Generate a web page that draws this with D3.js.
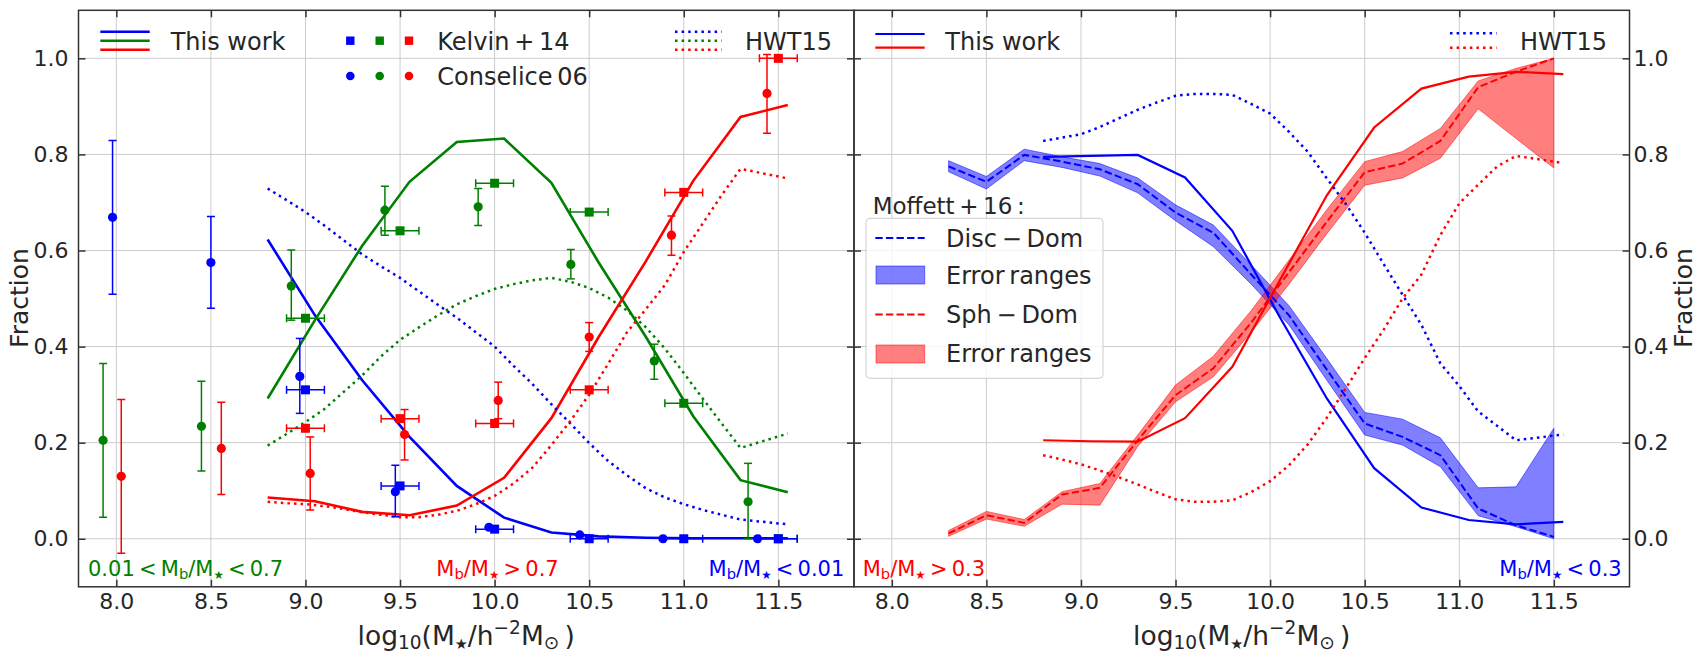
<!DOCTYPE html>
<html><head><meta charset="utf-8">
<script src="https://cdn.jsdelivr.net/npm/d3@7"></script>
<style>
body{margin:0;background:#fff}
svg{display:block}
text{font-family:"DejaVu Sans",sans-serif;fill:#262626}
</style></head>
<body><svg id="c" width="1707" height="665"></svg>
<script>
// ---------------- data ----------------
const xDomain = [7.8, 11.9];
const yDomain = [-0.1, 1.1];
const xTicks = [8.0, 8.5, 9.0, 9.5, 10.0, 10.5, 11.0, 11.5];
const yTicks = [0.0, 0.2, 0.4, 0.6, 0.8, 1.0];

// Left panel: This work
const workX = [8.8, 9.05, 9.3, 9.55, 9.8, 10.05, 10.3, 10.55, 10.8, 11.05, 11.3, 11.55];
const workLow  = [0.623, 0.465, 0.330, 0.212, 0.110, 0.044, 0.013, 0.005, 0.002, 0.001, 0.001, 0.001];
const workMid  = [0.292, 0.455, 0.610, 0.743, 0.826, 0.833, 0.741, 0.575, 0.420, 0.255, 0.122, 0.097];
const workHigh = [0.086, 0.078, 0.056, 0.049, 0.069, 0.127, 0.251, 0.420, 0.578, 0.745, 0.878, 0.903];

// Left panel: HWT15
const hwtX = [8.8, 8.9, 9.0, 9.1, 9.2, 9.3, 9.4, 9.5, 9.6, 9.7, 9.8, 9.9, 10.0, 10.1, 10.2, 10.3, 10.4, 10.5, 10.6, 10.7, 10.8, 10.9, 11.0, 11.1, 11.2, 11.3, 11.55];
const hwtLow  = [0.729, 0.705, 0.680, 0.652, 0.622, 0.592, 0.567, 0.543, 0.515, 0.487, 0.460, 0.430, 0.400, 0.360, 0.322, 0.280, 0.240, 0.199, 0.162, 0.132, 0.105, 0.086, 0.072, 0.060, 0.050, 0.040, 0.030];
const hwtMid  = [0.194, 0.218, 0.243, 0.270, 0.305, 0.340, 0.380, 0.414, 0.440, 0.465, 0.488, 0.505, 0.520, 0.530, 0.538, 0.543, 0.535, 0.522, 0.502, 0.475, 0.440, 0.396, 0.345, 0.292, 0.240, 0.189, 0.219];
const hwtHigh = [0.077, 0.074, 0.072, 0.068, 0.062, 0.055, 0.050, 0.045, 0.045, 0.050, 0.058, 0.072, 0.089, 0.115, 0.148, 0.195, 0.245, 0.300, 0.364, 0.430, 0.478, 0.528, 0.597, 0.656, 0.715, 0.770, 0.750];

// Kelvin+14
const kelvinX = [9.0, 9.5, 10.0, 10.5, 11.0, 11.5];
const kelvinXerr = [0.1, 0.1, 0.1, 0.1, 0.1, 0.1];
const kelvinLow  = [0.310, 0.110, 0.020, 0.000, 0.000, 0.000];
const kelvinMid  = [0.459, 0.641, 0.740, 0.680, 0.282, 0.000];
const kelvinHigh = [0.230, 0.250, 0.240, 0.310, 0.721, 1.000];

// Conselice 06
const consLowX  = [7.98, 8.50, 8.97, 9.475, 9.97, 10.45, 10.89, 11.39];
const consLowY  = [0.669, 0.575, 0.338, 0.098, 0.024, 0.008, 0.000, 0.000];
const consLowUp = [0.829, 0.671, 0.417, 0.153, 0.024, 0.008, 0.000, 0.000];
const consLowDn = [0.509, 0.480, 0.261, 0.046, 0.024, 0.008, 0.000, 0.000];
const consMidX  = [7.93, 8.45, 8.925, 9.42, 9.913, 10.403, 10.844, 11.34];
const consMidY  = [0.205, 0.234, 0.526, 0.684, 0.691, 0.571, 0.370, 0.077];
const consMidUp = [0.365, 0.328, 0.601, 0.734, 0.729, 0.602, 0.405, 0.157];
const consMidDn = [0.045, 0.141, 0.455, 0.632, 0.652, 0.541, 0.332, 0.000];
const consHighX  = [8.026, 8.555, 9.025, 9.524, 10.019, 10.50, 10.935, 11.44];
const consHighY  = [0.130, 0.188, 0.136, 0.217, 0.288, 0.420, 0.632, 0.927];
const consHighUp = [0.290, 0.284, 0.212, 0.269, 0.326, 0.450, 0.672, 1.008];
const consHighDn = [-0.030, 0.092, 0.060, 0.164, 0.250, 0.390, 0.590, 0.844];

// Right panel: This work
const workRX = [8.8, 9.05, 9.3, 9.55, 9.8, 10.05, 10.3, 10.55, 10.8, 11.05, 11.3, 11.55];
const workDisc = [0.795, 0.797, 0.799, 0.752, 0.641, 0.462, 0.292, 0.147, 0.065, 0.039, 0.030, 0.035];
const workSph  = [0.205, 0.203, 0.202, 0.251, 0.358, 0.537, 0.715, 0.856, 0.937, 0.962, 0.972, 0.967];

// Right panel: HWT15
const hwtRX = [8.8, 8.9, 9.0, 9.1, 9.2, 9.3, 9.4, 9.5, 9.6, 9.7, 9.8, 9.9, 10.0, 10.1, 10.2, 10.3, 10.4, 10.5, 10.6, 10.7, 10.8, 10.9, 11.0, 11.1, 11.2, 11.3, 11.55];
const hwtDisc = [0.828, 0.835, 0.842, 0.857, 0.875, 0.893, 0.908, 0.922, 0.926, 0.926, 0.924, 0.905, 0.885, 0.847, 0.805, 0.750, 0.697, 0.637, 0.572, 0.508, 0.445, 0.365, 0.318, 0.265, 0.235, 0.205, 0.217];
const hwtSph  = [0.174, 0.165, 0.155, 0.142, 0.128, 0.113, 0.097, 0.082, 0.077, 0.077, 0.080, 0.097, 0.120, 0.153, 0.197, 0.252, 0.313, 0.376, 0.435, 0.500, 0.550, 0.632, 0.698, 0.737, 0.775, 0.797, 0.782];

// Right panel: Moffett+16
const moffX = [8.3, 8.5, 8.7, 8.9, 9.1, 9.3, 9.5, 9.7, 9.9, 10.1, 10.3, 10.5, 10.7, 10.9, 11.1, 11.3, 11.5];
const moffDisc   = [0.775, 0.743, 0.799, 0.785, 0.769, 0.738, 0.679, 0.637, 0.550, 0.465, 0.352, 0.240, 0.212, 0.174, 0.063, 0.028, 0.004];
const moffDiscUp = [0.787, 0.754, 0.811, 0.795, 0.781, 0.751, 0.695, 0.653, 0.570, 0.485, 0.375, 0.263, 0.249, 0.210, 0.106, 0.108, 0.230];
const moffDiscDn = [0.764, 0.728, 0.787, 0.773, 0.755, 0.720, 0.662, 0.608, 0.530, 0.445, 0.330, 0.216, 0.195, 0.150, 0.048, 0.025, 0.000];
const moffSph    = [0.011, 0.049, 0.033, 0.092, 0.106, 0.205, 0.299, 0.355, 0.450, 0.555, 0.660, 0.763, 0.781, 0.828, 0.940, 0.972, 1.000];
const moffSphUp  = [0.017, 0.057, 0.040, 0.098, 0.115, 0.216, 0.320, 0.380, 0.475, 0.580, 0.685, 0.785, 0.806, 0.854, 0.953, 0.979, 1.000];
const moffSphDn  = [0.005, 0.041, 0.026, 0.072, 0.070, 0.192, 0.285, 0.337, 0.430, 0.530, 0.635, 0.736, 0.751, 0.792, 0.895, 0.833, 0.772];

// ---------------- drawing ----------------
const BLUE = "#0000ff", GREEN = "#008000", RED = "#ff0000";
const svg = d3.select("#c");
const yTop = 10.3, yBot = 586.8;
const y = d3.scaleLinear().domain(yDomain).range([yBot, yTop]);
const xL = d3.scaleLinear().domain(xDomain).range([78.5, 854]);
const xR = d3.scaleLinear().domain(xDomain).range([854, 1629.5]);
const zip = (xs, ys) => xs.map((v, i) => [v, ys[i]]);

// segs: [text, mode, scale]; mode: "sub" | "sup" | undefined
function rich(g, x, yy, segs, fs, color, anchor) {
  const t = g.append("text").attr("x", x).attr("y", yy).attr("font-size", fs)
    .style("fill", color || "#262626").attr("text-anchor", anchor || "start");
  let cur = 0;
  segs.forEach(([s, mode, sc]) => {
    const target = mode === "sub" ? 0.16 * fs : mode === "sup" ? -0.42 * fs : 0;
    const ts = t.append("tspan").text(s).attr("dy", target - cur);
    if (mode) ts.attr("font-size", fs * (sc || 0.7));
    cur = target;
  });
  return t;
}

function panel(x, id) {
  const g = svg.append("g");
  const [x0, x1] = x.range();
  svg.append("defs").append("clipPath").attr("id", "clip" + id)
    .append("rect").attr("x", x0).attr("y", yTop).attr("width", x1 - x0).attr("height", yBot - yTop);
  g.append("g").selectAll("line").data(xTicks).join("line")
    .attr("x1", d => x(d)).attr("x2", d => x(d)).attr("y1", yTop).attr("y2", yBot)
    .attr("stroke", "#cccccc").attr("stroke-width", 1);
  g.append("g").selectAll("line").data(yTicks).join("line")
    .attr("y1", d => y(d)).attr("y2", d => y(d)).attr("x1", x0).attr("x2", x1)
    .attr("stroke", "#cccccc").attr("stroke-width", 1);
  const plot = g.append("g").attr("clip-path", `url(#clip${id})`);
  return { g, plot, x0, x1 };
}

function styleAxis(a, showLabels) {
  a.attr("font-size", null).attr("font-family", null);
  a.select(".domain").remove();
  a.selectAll(".tick line").attr("stroke", "#333333").attr("stroke-width", 1.5);
  a.selectAll(".tick text").attr("font-size", 22).style("fill", "#262626");
  if (!showLabels) a.selectAll(".tick text").remove();
}

function axes(p, x, ySide) {
  const fmt = d3.format(".1f");
  styleAxis(p.g.append("g").attr("transform", `translate(0,${yBot})`)
    .call(d3.axisBottom(x).tickValues(xTicks).tickFormat(fmt).tickSize(-7).tickPadding(7)), true);
  styleAxis(p.g.append("g").attr("transform", `translate(0,${yTop})`)
    .call(d3.axisTop(x).tickValues(xTicks).tickSize(-7)), false);
  styleAxis(p.g.append("g").attr("transform", `translate(${p.x0},0)`)
    .call(d3.axisLeft(y).tickValues(yTicks).tickFormat(fmt).tickSize(-7).tickPadding(10)), ySide === "left");
  styleAxis(p.g.append("g").attr("transform", `translate(${p.x1},0)`)
    .call(d3.axisRight(y).tickValues(yTicks).tickFormat(fmt).tickSize(-7).tickPadding(4)), ySide === "right");
  p.g.append("rect").attr("x", p.x0).attr("y", yTop).attr("width", p.x1 - p.x0).attr("height", yBot - yTop)
    .attr("fill", "none").attr("stroke", "#333333").attr("stroke-width", 1.5);
}

function line(gp, x, xs, ys, color, w, dash) {
  gp.append("path").datum(zip(xs, ys))
    .attr("d", d3.line().x(d => x(d[0])).y(d => y(d[1])))
    .attr("fill", "none").attr("stroke", color).attr("stroke-width", w)
    .attr("stroke-dasharray", dash || null).attr("stroke-linejoin", "miter");
}
function band(gp, x, xs, up, dn, color) {
  gp.append("path").datum(xs.map((v, i) => [v, up[i], dn[i]]))
    .attr("d", d3.area().x(d => x(d[0])).y0(d => y(d[2])).y1(d => y(d[1])))
    .attr("fill", color).attr("fill-opacity", 0.5)
    .attr("stroke", color).attr("stroke-opacity", 0.5).attr("stroke-width", 1);
}
function vErr(gp, x, xs, ys, up, dn, color) {
  const g = gp.append("g");
  xs.forEach((v, i) => {
    if (up[i] - dn[i] > 0.002) {
      g.append("line").attr("x1", x(v)).attr("x2", x(v)).attr("y1", y(up[i])).attr("y2", y(dn[i]))
        .attr("stroke", color).attr("stroke-width", 1.5);
      [up[i], dn[i]].forEach(e => g.append("line").attr("x1", x(v) - 4).attr("x2", x(v) + 4)
        .attr("y1", y(e)).attr("y2", y(e)).attr("stroke", color).attr("stroke-width", 1.5));
    }
    g.append("circle").attr("cx", x(v)).attr("cy", y(ys[i])).attr("r", 4.6).attr("fill", color);
  });
}
function hErr(gp, x, xs, ys, xe, color) {
  const g = gp.append("g");
  xs.forEach((v, i) => {
    const a = x(v - xe[i]), b = x(v + xe[i]), yy = y(ys[i]);
    g.append("line").attr("x1", a).attr("x2", b).attr("y1", yy).attr("y2", yy).attr("stroke", color).attr("stroke-width", 1.5);
    [a, b].forEach(e => g.append("line").attr("x1", e).attr("x2", e).attr("y1", yy - 4).attr("y2", yy + 4)
      .attr("stroke", color).attr("stroke-width", 1.5));
    g.append("rect").attr("x", x(v) - 4.5).attr("y", yy - 4.5).attr("width", 9).attr("height", 9).attr("fill", color);
  });
}

const DOT = "2.5,4.1", DASH = "7.4,3.2";

// ---- Left panel ----
const L = panel(xL, "L");
line(L.plot, xL, workX, workLow, BLUE, 2.6);
line(L.plot, xL, workX, workMid, GREEN, 2.6);
line(L.plot, xL, workX, workHigh, RED, 2.6);
line(L.plot, xL, hwtX, hwtLow, BLUE, 2.5, DOT);
line(L.plot, xL, hwtX, hwtMid, GREEN, 2.5, DOT);
line(L.plot, xL, hwtX, hwtHigh, RED, 2.5, DOT);
hErr(L.plot, xL, kelvinX, kelvinMid, kelvinXerr, GREEN);
hErr(L.plot, xL, kelvinX, kelvinHigh, kelvinXerr, RED);
hErr(L.plot, xL, kelvinX, kelvinLow, kelvinXerr, BLUE);
vErr(L.plot, xL, consMidX, consMidY, consMidUp, consMidDn, GREEN);
vErr(L.plot, xL, consHighX, consHighY, consHighUp, consHighDn, RED);
vErr(L.plot, xL, consLowX, consLowY, consLowUp, consLowDn, BLUE);
axes(L, xL, "left");

// ---- Right panel ----
const R = panel(xR, "R");
band(R.plot, xR, moffX, moffDiscUp, moffDiscDn, BLUE);
band(R.plot, xR, moffX, moffSphUp, moffSphDn, RED);
line(R.plot, xR, moffX, moffDisc, BLUE, 2, DASH);
line(R.plot, xR, moffX, moffSph, RED, 2, DASH);
line(R.plot, xR, workRX, workDisc, BLUE, 2.2);
line(R.plot, xR, workRX, workSph, RED, 2.2);
line(R.plot, xR, hwtRX, hwtDisc, BLUE, 2.5, DOT);
line(R.plot, xR, hwtRX, hwtSph, RED, 2.5, DOT);
axes(R, xR, "right");

// ---- Legends ----
const lg = svg.append("g");
function hline(x1, x2, yy, color, w, dash) {
  lg.append("line").attr("x1", x1).attr("x2", x2).attr("y1", yy).attr("y2", yy)
    .attr("stroke", color).attr("stroke-width", w).attr("stroke-dasharray", dash || null);
}
function txt(x, yy, s, fs) {
  lg.append("text").attr("x", x).attr("y", yy).attr("font-size", fs || 24).text(s);
}
[[31.7, BLUE], [40.7, GREEN], [49.7, RED]].forEach(([yy, c]) => hline(100.3, 149.7, yy, c, 2.6));
txt(170.7, 50, "This work");
[[350.3, BLUE], [379.7, GREEN], [409, RED]].forEach(([xx, c]) => {
  lg.append("rect").attr("x", xx - 4.2).attr("y", 40.7 - 4.2).attr("width", 8.4).attr("height", 8.4).attr("fill", c);
  lg.append("circle").attr("cx", xx).attr("cy", 76).attr("r", 4.3).attr("fill", c);
});
txt(437.3, 50, "Kelvin\u2009+\u200914");
txt(437.3, 85, "Conselice\u200906");
[[31.7, BLUE], [40.7, GREEN], [49.7, RED]].forEach(([yy, c]) => hline(675, 721.7, yy, c, 2.5, DOT));
txt(745, 50, "HWT15");
[[34, BLUE], [47.7, RED]].forEach(([yy, c]) => hline(875.3, 924.7, yy, c, 2.2));
txt(945.3, 50, "This work");
[[33.3, BLUE], [47.7, RED]].forEach(([yy, c]) => hline(1450, 1496.7, yy, c, 2.5, DOT));
txt(1520, 50, "HWT15");
txt(872.7, 214, "Moffett\u2009+\u200916\u2009:", 23);
lg.append("rect").attr("x", 866).attr("y", 218.3).attr("width", 237).attr("height", 160).attr("rx", 4)
  .attr("fill", "#ffffff").attr("fill-opacity", 0.8).attr("stroke", "#cccccc").attr("stroke-width", 1);
hline(875.3, 924.7, 238, BLUE, 2, DASH);
txt(946, 246.5, "Disc\u2009\u2212\u2009Dom");
lg.append("rect").attr("x", 876).attr("y", 266).attr("width", 48.7).attr("height", 18)
  .attr("fill", BLUE).attr("fill-opacity", 0.5).attr("stroke", BLUE).attr("stroke-opacity", 0.5);
txt(946, 283.5, "Error\u2009ranges");
hline(875.3, 924.7, 314.5, RED, 2, DASH);
txt(946, 322.5, "Sph\u2009\u2212\u2009Dom");
lg.append("rect").attr("x", 876).attr("y", 345).attr("width", 48.7).attr("height", 18)
  .attr("fill", RED).attr("fill-opacity", 0.5).attr("stroke", RED).attr("stroke-opacity", 0.5);
txt(946, 362, "Error\u2009ranges");

// ---- Annotations ----
const an = svg.append("g");
const S = "\u2605";
rich(an, 88, 576, [["0.01\u2009<\u2009M"], ["b", "sub"], ["/M"], [S, "sub", 0.55], ["\u2009<\u20090.7"]], 21, GREEN);
rich(an, 436.3, 576, [["M"], ["b", "sub"], ["/M"], [S, "sub", 0.55], ["\u2009>\u20090.7"]], 21, RED);
rich(an, 844.3, 576, [["M"], ["b", "sub"], ["/M"], [S, "sub", 0.55], ["\u2009<\u20090.01"]], 21, BLUE, "end");
rich(an, 862.7, 576, [["M"], ["b", "sub"], ["/M"], [S, "sub", 0.55], ["\u2009>\u20090.3"]], 21, RED);
rich(an, 1621.7, 576, [["M"], ["b", "sub"], ["/M"], [S, "sub", 0.55], ["\u2009<\u20090.3"]], 21, BLUE, "end");

// ---- Axis labels ----
const xl = [["log"], ["10", "sub"], ["(M"], [S, "sub", 0.55], ["/h"], ["\u22122", "sup"], ["M"], ["\u2299", "sub"], ["\u2009)"]];
rich(an, (78.5 + 854) / 2, 645, xl, 26.5, "#262626", "middle");
rich(an, (854 + 1629.5) / 2, 645, xl, 26.5, "#262626", "middle");
an.append("text").attr("transform", "translate(19,298) rotate(-90)").attr("dy", "0.365em")
  .attr("text-anchor", "middle").attr("font-size", 25).text("Fraction");
an.append("text").attr("transform", "translate(1683,298) rotate(-90)").attr("dy", "0.365em")
  .attr("text-anchor", "middle").attr("font-size", 25).text("Fraction");
</script></body></html>
